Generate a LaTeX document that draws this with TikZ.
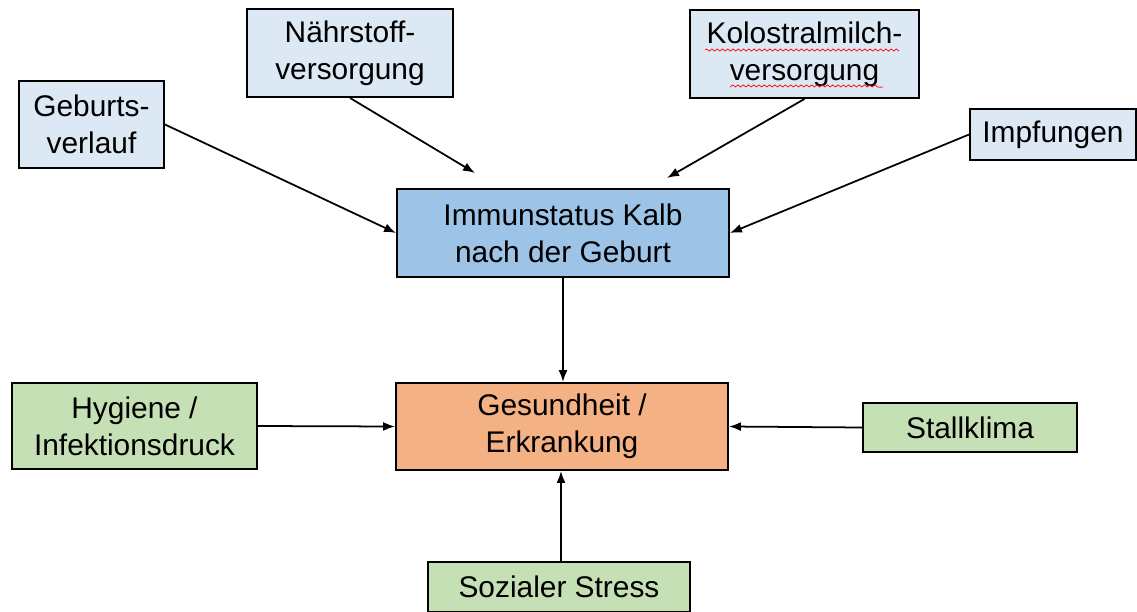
\documentclass[tikz,border=0pt]{standalone}
\usepackage{fontspec}
\setmainfont{Liberation Sans}
\usetikzlibrary{arrows.meta,decorations.pathmorphing}

\definecolor{paleblue}{HTML}{DDE8F5}
\definecolor{immunblue}{HTML}{9DC3E6}
\definecolor{healthorange}{HTML}{F4B183}
\definecolor{factorgreen}{HTML}{C5E0B4}

\tikzset{
  box/.style={draw=black, line width=1.1pt, inner sep=0pt, align=center,
    font=\fontsize{17}{21}\selectfont},
  inbox/.style={box, fill=paleblue},
  immunbox/.style={box, fill=immunblue},
  healthbox/.style={box, fill=healthorange},
  factorbox/.style={box, fill=factorgreen},
  link/.style={->, line width=1pt, >={Latex[length=2.4mm,width=1.8mm]}}
}

\begin{document}
\begin{tikzpicture}[x=0.02cm, y=-0.02cm]
\useasboundingbox (0,0) rectangle (1137,612);

% influences on the immune status
\node[inbox, minimum width=2.9cm, minimum height=1.74cm] (gebu) at (91.5,124.5) {Geburts-\\verlauf};
\node[inbox, minimum width=4.12cm, minimum height=1.76cm] (naehr) at (350,53) {Nährstoff-\\versorgung};
\node[inbox, minimum width=4.58cm, minimum height=1.76cm] (kolo) at (804.5,54) {Kolostralmilch-\\versorgung};
\node[inbox, minimum width=3.32cm, minimum height=1.02cm] (impf) at (1053,134.5) {Impfungen};

\node[immunbox, minimum width=6.64cm, minimum height=1.76cm] (immun) at (563,233) {Immunstatus Kalb\\nach der Geburt};
\node[healthbox, minimum width=6.64cm, minimum height=1.74cm] (gesund) at (562,426.5) {Gesundheit /\\Erkrankung};

% other factors
\node[factorbox, minimum width=4.9cm, minimum height=1.72cm] (hyg) at (134.5,426) {Hygiene /\\Infektionsdruck};
\node[factorbox, minimum width=4.28cm, minimum height=0.98cm] (stall) at (970,427.5) {Stallklima};
\node[factorbox, minimum width=5.24cm, minimum height=1.0cm] (sozial) at (559,587) {Sozialer Stress};

\coordinate (naehrend) at (475,173);
\coordinate (koloend) at (667,178);
\coordinate (soztop) at (561,561);

\draw[link] (gebu.east) -- (immun.west);
\draw[link] (naehr.south) -- (naehrend);
\draw[link] (kolo.south) -- (koloend);
\draw[link] (impf.west) -- (immun.east);
\draw[link] (immun.south) -- (immun.south |- gesund.north);
\draw[link] (hyg.east) -- (gesund.west);
\draw[link] (stall.west) -- (gesund.east);
\draw[link] (soztop) -- (soztop |- gesund.south);

% spell check marks
\draw[red, line width=0.4pt, decorate, decoration={snake, amplitude=0.6pt, segment length=3pt}]
  (705,50) -- (897,50) (730,87) -- (883,87);
\end{tikzpicture}
\end{document}
